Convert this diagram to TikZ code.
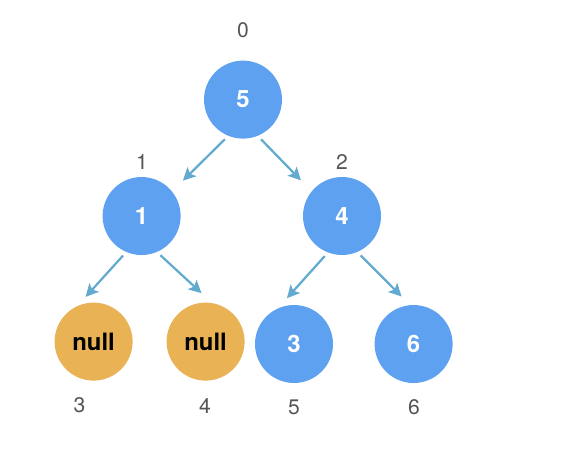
\documentclass[tikz,border=0pt]{standalone}
\usepackage{fontspec}
\setmainfont{TeX Gyre Heros}
\usetikzlibrary{arrows.meta}
\definecolor{nodeblue}{RGB}{94,161,240}
\definecolor{nullorange}{RGB}{233,179,85}
\definecolor{linkblue}{RGB}{98,171,207}
\definecolor{idxgray}{RGB}{85,85,85}
\tikzset{
    tnode/.style={circle,fill=nodeblue,text=white,minimum size=1.95cm,inner sep=0pt,outer sep=0pt,
        font=\fontsize{17}{20}\selectfont\bfseries},
    nnode/.style={tnode,fill=nullorange,text=black},
    idx/.style={inner sep=0pt,text=idxgray,font=\fontsize{15}{18}\selectfont},
    link/.style={draw=linkblue,line width=1.6pt,shorten <=3.5pt,
        -{Stealth[length=9pt,width=9pt,inset=2pt]}}
}
\begin{document}
\begin{tikzpicture}
    \useasboundingbox (0,0) rectangle (14.5,-11.45);
    
    % tree
    \node[tnode] (root) at (6.075,-2.49) {5};
    \node[tnode] (n1) at (3.54,-5.4) {1};
    \node[tnode] (n4) at (8.55,-5.4) {4};
    \node[nnode] (null1) at (2.34,-8.54) {null};
    \node[nnode] (null2) at (5.14,-8.54) {null};
    \node[tnode] (n3) at (7.35,-8.6) {3};
    \node[tnode] (n6) at (10.34,-8.6) {6};
    
    % indices
    \node[idx] (i0) at (6.075,-0.75) {0};
    \node[idx] (i1) at (3.55,-4.05) {1};
    \node[idx] (i2) at (8.55,-4.05) {2};
    \node[idx] (i3) at (1.99,-10.14) {3};
    \node[idx] (i4) at (5.125,-10.14) {4};
    \node[idx] (i5) at (7.35,-10.19) {5};
    \node[idx] (i6) at (10.35,-10.19) {6};
    
    \draw[link,shorten >=11pt] (root.248) -- (n1.39);
    \draw[link,shorten >=11pt] (root.292) -- (n4.141);
    \draw[link,shorten >=9pt] (n1.247) -- (null1.115);
    \draw[link,shorten >=10.5pt] (n1.293) -- (null2.80);
    \draw[link,shorten >=10pt] (n4.249) -- (n3.115);
    \draw[link,shorten >=8.7pt] (n4.293) -- (n6.95);
    
\end{tikzpicture}
\end{document}
